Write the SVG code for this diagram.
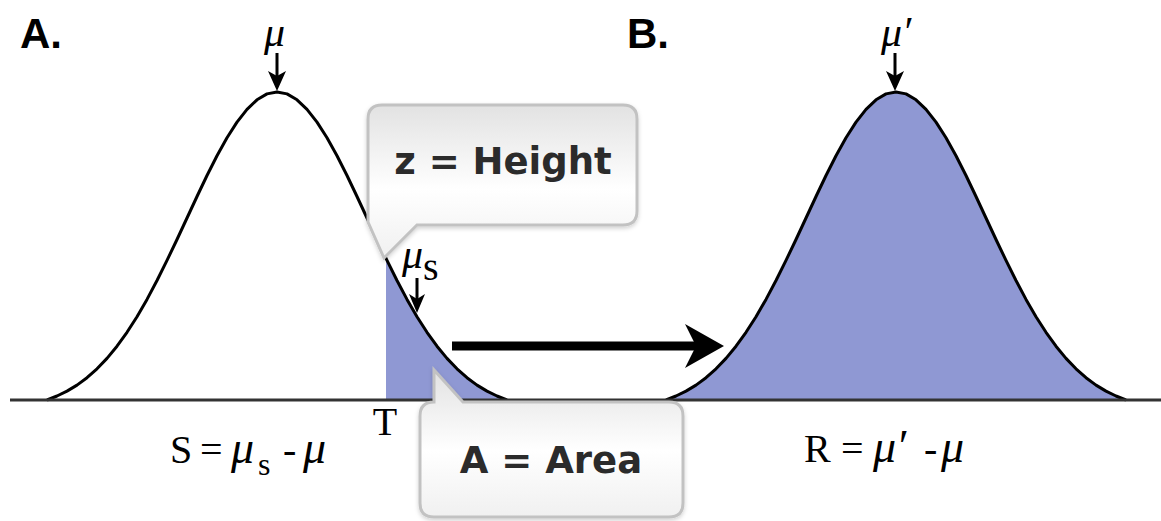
<svg xmlns="http://www.w3.org/2000/svg" xmlns:xlink="http://www.w3.org/1999/xlink" width="1161" height="521" viewBox="0 0 1161 521">
  <style>
    .curve { fill: none; stroke: #000; stroke-width: 3; stroke-linejoin: round; }
    .shade { fill: #8f98d3; stroke: none; }
    .base { stroke: #333; stroke-width: 3; }
    .panel { font-family: "Liberation Sans", Arial, sans-serif; font-weight: bold; font-size: 42px; fill: #000; }
    .math { font-family: "Liberation Serif", "Times New Roman", serif; font-size: 40px; fill: #000; }
    .mi { font-style: italic; font-size: 46px; }
    .lab { font-family: "Liberation Serif", "Times New Roman", serif; font-style: italic; font-size: 42px; fill: #000; }
    .bubble { fill: url(#bg); stroke: #c2c2c2; stroke-width: 3; filter: url(#sh); }
    .btext { font-family: "DejaVu Sans", Verdana, sans-serif; font-weight: bold; font-size: 37px; fill: #2b2b2b; text-anchor: middle; }
    .tick { stroke: #000; stroke-width: 3; }
    .head { fill: #000; }
  </style>
  <defs>
    <path id="gauss" d="M -230,400 L -220,396.0 -210,391.1 -200,385.1 -190,377.7 -180,368.8 -170,358.4 -160,346.2 -150,332.3 -140,316.7 -130,299.4 -120,280.5 -110,260.4 -100,239.5 -90,218.0 -80,196.5 -70,175.5 -60,155.8 -50,137.8 -40,122.1 -30,109.3 -20,99.8 -10,93.9 0,92 10,93.9 20,99.8 30,109.3 40,122.1 50,137.8 60,155.8 70,175.5 80,196.5 90,218.0 100,239.5 110,260.4 120,280.5 130,299.4 140,316.7 150,332.3 160,346.2 170,358.4 180,368.8 190,377.7 200,385.1 210,391.1 220,396.0 230,400"/>
    <clipPath id="tail">
      <rect x="386" y="0" width="200" height="401"/>
    </clipPath>
    <linearGradient id="bg" x1="0" y1="0" x2="0" y2="1">
      <stop offset="0" stop-color="#e2e2e2"/>
      <stop offset="0.55" stop-color="#ffffff"/>
      <stop offset="1" stop-color="#f0f0f0"/>
    </linearGradient>
    <filter id="sh" x="-10%" y="-10%" width="120%" height="130%">
      <feDropShadow dx="0" dy="2" stdDeviation="2" flood-color="#000" flood-opacity="0.18"/>
    </filter>
  </defs>

  <g id="curveA">
    <g clip-path="url(#tail)">
      <use xlink:href="#gauss" href="#gauss" class="shade" transform="translate(277,0)"/>
    </g>
    <use xlink:href="#gauss" href="#gauss" class="curve" transform="translate(277,0)"/>
  </g>

  <g id="curveB">
    <use xlink:href="#gauss" href="#gauss" class="shade" transform="translate(896,0)"/>
    <use xlink:href="#gauss" href="#gauss" class="curve" transform="translate(896,0)"/>
  </g>

  <line id="axis" class="base" x1="10" y1="400" x2="1161" y2="400"/>

  <g id="labels">
    <text class="panel" x="20" y="48">A.</text>
    <text class="panel" x="627" y="48">B.</text>
    <text class="lab" x="264" y="46">μ</text>
    <text class="lab" x="881" y="46">μ′</text>
    <text class="lab" x="402" y="268">μ</text>
    <text class="math" x="423" y="280" font-size="32">s</text>
    <text class="math" x="385" y="435" text-anchor="middle" font-size="32">T</text>
    <text class="math" y="463"><tspan x="170">S</tspan><tspan x="200">=</tspan><tspan x="231" class="mi">μ</tspan><tspan x="258" y="475" font-size="32">s</tspan><tspan x="283" y="463">-</tspan><tspan x="303" class="mi">μ</tspan></text>
    <text class="math" y="462"><tspan x="804">R</tspan><tspan x="841">=</tspan><tspan x="873" class="mi">μ′</tspan><tspan x="924">-</tspan><tspan x="941" class="mi">μ</tspan></text>
  </g>

  <g id="connectors">
    <line class="tick" x1="277" y1="53" x2="277" y2="78"/>
    <path class="head" d="M 277,91 L 268,71 L 277,76 L 286,71 Z"/>
    <line class="tick" x1="895" y1="53" x2="895" y2="78"/>
    <path class="head" d="M 895,91 L 886,71 L 895,76 L 904,71 Z"/>
    <line class="tick" x1="417" y1="278" x2="417" y2="300"/>
    <path class="head" d="M 417,313 L 409,294 L 417,299 L 425,294 Z"/>
    <line x1="452" y1="346" x2="700" y2="346" stroke="#000" stroke-width="9"/>
    <path class="head" d="M 724,346 L 685,324 L 696,346 L 685,368 Z"/>
  </g>

  <g id="calloutHeight">
    <path class="bubble" d="M 382,105 H 623 Q 637,105 637,119 V 211 Q 637,225 623,225 H 417 L 384,258 L 368,222 V 119 Q 368,105 382,105 Z"/>
    <text class="btext" x="503" y="174">z = Height</text>
  </g>

  <g id="calloutArea">
    <path class="bubble" d="M 434,402 L 434,370 L 463,402 H 669 Q 683,402 683,416 V 503 Q 683,517 669,517 H 434 Q 420,517 420,503 V 416 Q 420,402 434,402 Z"/>
    <text class="btext" x="551" y="473">A = Area</text>
  </g>
</svg>
